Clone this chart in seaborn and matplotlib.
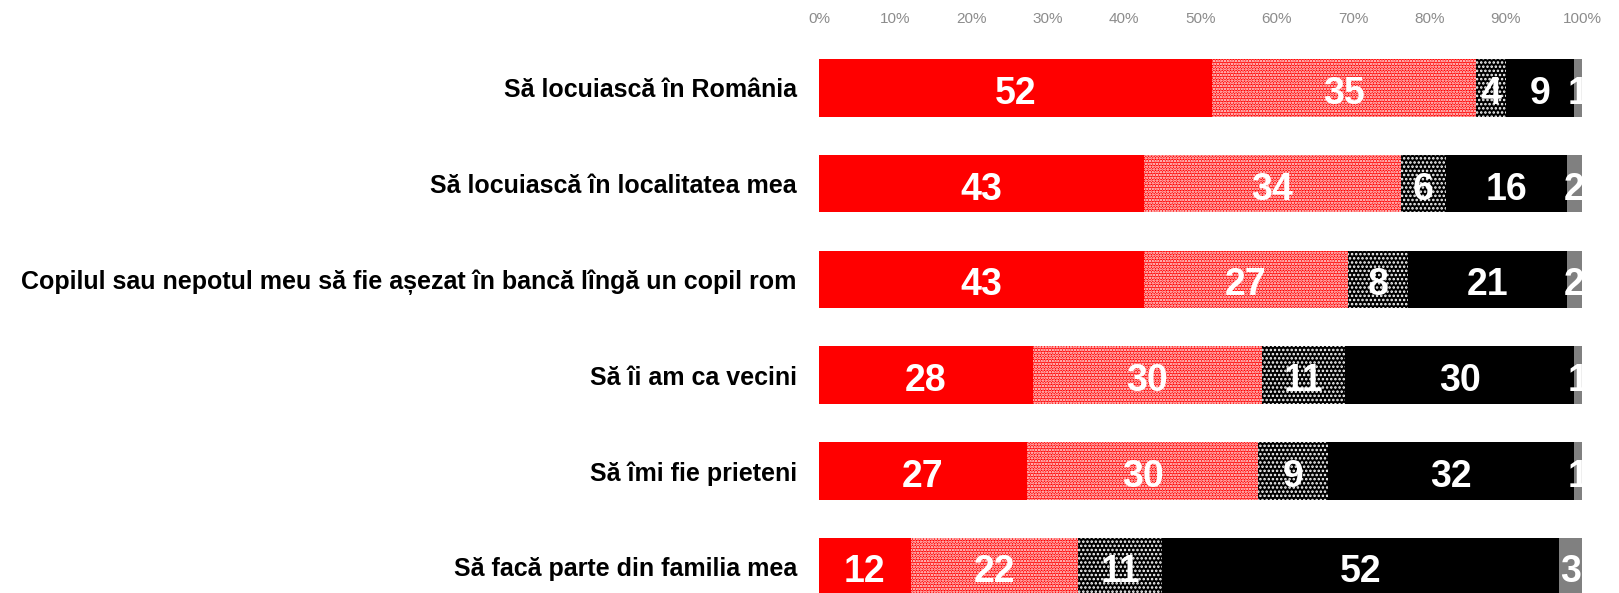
import pandas as pd
import seaborn as sns
import matplotlib.pyplot as plt

# Date
items = ['Să locuiască în România',
         'Să locuiască în localitatea mea',
         'Copilul sau nepotul meu să fie așezat în bancă lîngă un copil rom',
         'Să îi am ca vecini',
         'Să îmi fie prieteni',
         'Să facă parte din familia mea']
seg1 = [52, 43, 43, 28, 27, 12]   # rosu plin
seg2 = [35, 34, 27, 30, 30, 22]   # rosu punctat
seg3 = [4, 6, 8, 11, 9, 11]       # negru punctat
seg4 = [9, 16, 21, 30, 32, 52]    # negru plin
seg5 = [1, 2, 2, 1, 1, 3]         # gri
ticks = [0, 10, 20, 30, 40, 50, 60, 70, 80, 90, 100]

segments = [seg1, seg2, seg3, seg4, seg5]
colors = ['#ff0000', '#ff0000', '#000000', '#000000', '#808080']
hatches = [None, '......', '....', None, None]

sns.set_style('white')
plt.rcParams['font.family'] = ['Liberation Sans', 'DejaVu Sans']
plt.rcParams['hatch.linewidth'] = 1.2

df = pd.DataFrame({'item': items})
for i, s in enumerate(segments):
    df['s%d' % i] = s
df['total'] = df[['s%d' % i for i in range(5)]].sum(axis=1)
# 100% stacked
for i in range(5):
    df['p%d' % i] = df['s%d' % i] / df['total'] * 100
df['c0'] = 0.0
for i in range(5):
    df['c%d' % (i + 1)] = df['c%d' % i] + df['p%d' % i]

fig = plt.figure(figsize=(16.19, 5.93), dpi=100)
ax = fig.add_axes([819 / 1619, 0, (1582 - 819) / 1619, (593 - 30) / 593])

# de la ultimul segment spre primul (stivuire cumulata)
for i in range(4, -1, -1):
    n0 = len(ax.patches)
    sns.barplot(data=df, x='c%d' % (i + 1), y='item', orient='h', color=colors[i],
                saturation=1, width=0.6, linewidth=0, ax=ax)
    for p in ax.patches[n0:]:
        if hatches[i]:
            p.set_hatch(hatches[i])
            p.set_edgecolor('white')
            p.set_linewidth(0)

# etichete
for r in range(len(items)):
    for i in range(5):
        x = df.loc[r, 'c%d' % i] + df.loc[r, 'p%d' % i] / 2
        ax.text(x, r + 0.02, str(segments[i][r]), ha='center', va='center_baseline',
                color='white', fontsize=27, fontweight='bold', clip_on=True)

ax.set_xlim(0, 100)
ax.set_ylim(5.277, -0.606)
ax.set_xticks(ticks)
ax.set_xticklabels([f'{t}%' for t in ticks])
ax.xaxis.tick_top()
ax.tick_params(axis='x', length=0, labelsize=11, labelcolor='#8c8c8c', pad=3)
ax.tick_params(axis='y', length=0, labelsize=18, labelcolor='black', pad=16)
for lab in ax.get_yticklabels():
    lab.set_fontweight('bold')
ax.set_xlabel('')
ax.set_ylabel('')
sns.despine(ax=ax, left=True, bottom=True, top=True, right=True)

fig.savefig('out.png', dpi=100)
